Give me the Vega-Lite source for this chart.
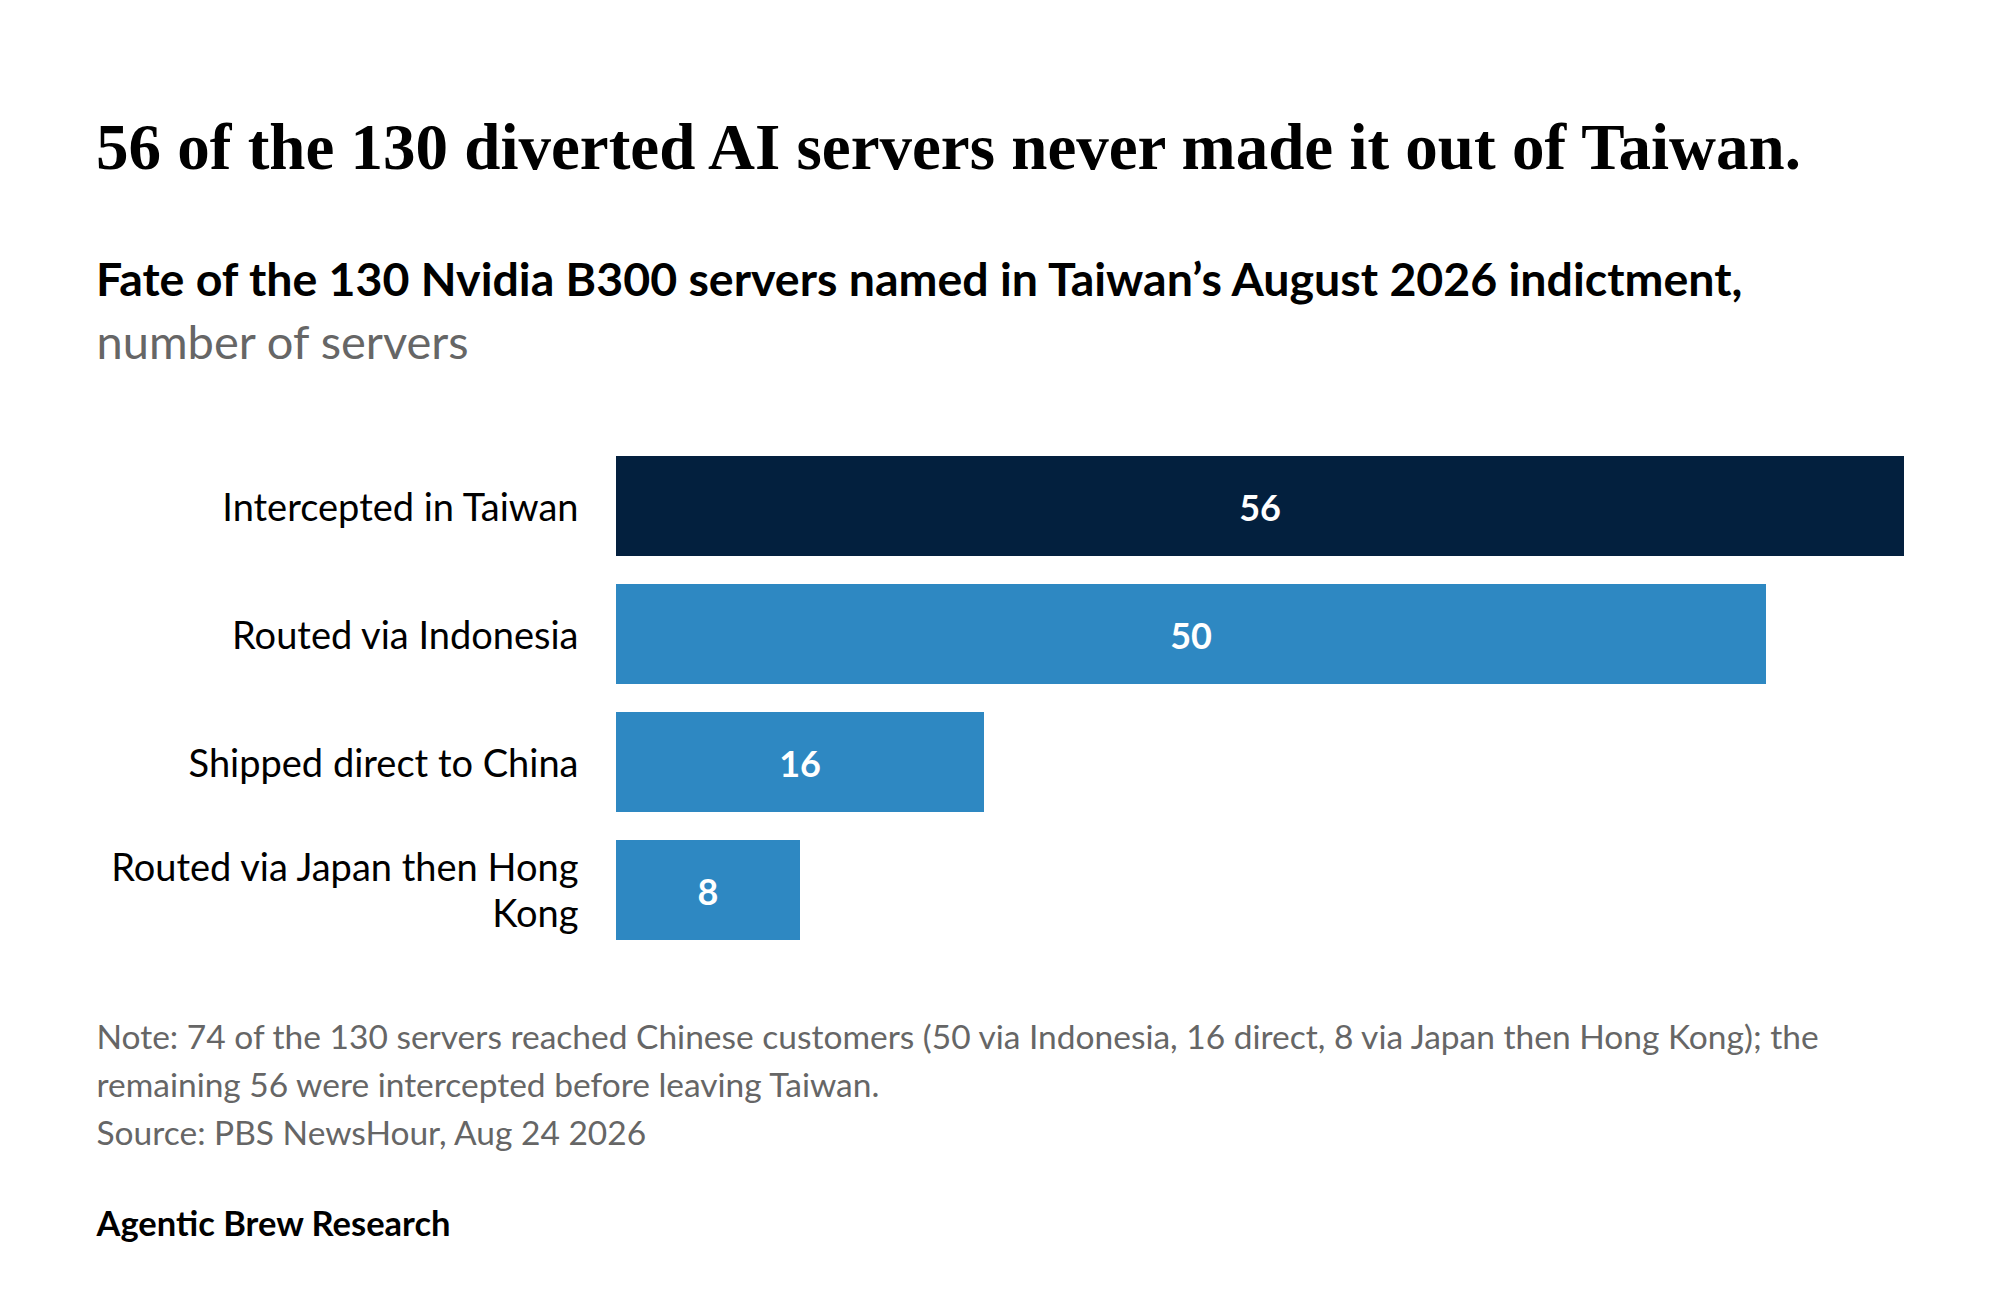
{
  "$schema": "https://vega.github.io/schema/vega-lite/v6.json",
  "autosize": {"type": "none"},
  "padding": {"left": 616, "top": 442, "right": 96, "bottom": 362},
  "width": 1288,
  "height": 512,
  "background": "white",
  "title": {
    "text": "56 of the 130 diverted AI servers never made it out of Taiwan.",
    "subtitle": "Fate of the 130 Nvidia B300 servers named in Taiwan’s August 2026 indictment,",
    "anchor": "start",
    "frame": "group",
    "dx": -520,
    "offset": 14,
    "font": "Liberation Serif",
    "fontSize": 65,
    "fontWeight": "bold",
    "color": "#000000",
    "subtitleFont": "Lato",
    "subtitleFontSize": 46.5,
    "subtitleFontWeight": "bold",
    "subtitleColor": "#000000",
    "subtitlePadding": 76
  },
  "data": {
    "values": [
      {"fate": "Intercepted in Taiwan", "servers": 56},
      {"fate": "Routed via Indonesia", "servers": 50},
      {"fate": "Shipped direct to China", "servers": 16},
      {"fate": "Routed via Japan then Hong Kong", "servers": 8}
    ]
  },
  "encoding": {
    "y": {
      "field": "fate",
      "type": "nominal",
      "sort": null,
      "scale": {"paddingInner": 0.22, "paddingOuter": 0.11},
      "axis": {
        "domain": false,
        "ticks": false,
        "grid": false,
        "labelPadding": 38,
        "labelFont": "Lato",
        "labelFontSize": 38,
        "labelColor": "#000000",
        "labelLimit": 700,
        "labelLineHeight": 46,
        "labelOffset": {"condition": {"test": "datum.value == 'Routed via Japan then Hong Kong'", "value": -20}, "value": 4},
        "labelExpr": "datum.value == 'Routed via Japan then Hong Kong' ? ['Routed via Japan then Hong', 'Kong'] : datum.value",
        "title": "number of servers",
        "titleAngle": 0,
        "titleAlign": "left",
        "titleBaseline": "alphabetic",
        "titleX": -520,
        "titleY": -84,
        "titleFont": "Lato",
        "titleFontSize": 47,
        "titleFontWeight": "normal",
        "titleColor": "#666666",
        "titleLimit": 2000
      }
    }
  },
  "layer": [
    {
      "mark": {"type": "bar"},
      "encoding": {
        "x": {
          "field": "servers",
          "type": "quantitative",
          "scale": {"domain": [0, 56], "nice": false},
          "axis": {
            "orient": "bottom",
            "labels": false,
            "ticks": false,
            "domain": false,
            "grid": false,
            "title": [
              "Note: 74 of the 130 servers reached Chinese customers (50 via Indonesia, 16 direct, 8 via Japan then Hong Kong); the",
              "remaining 56 were intercepted before leaving Taiwan.",
              "Source: PBS NewsHour, Aug 24 2026"
            ],
            "titleAlign": "left",
            "titleAnchor": "start",
            "titleBaseline": "alphabetic",
            "titleX": -520,
            "titleY": 94,
            "titleFont": "Lato",
            "titleFontSize": 33.5,
            "titleFontWeight": "normal",
            "titleColor": "#666666",
            "titleLineHeight": 48,
            "titleLimit": 2000
          }
        },
        "color": {
          "field": "fate",
          "type": "nominal",
          "scale": {
            "domain": ["Intercepted in Taiwan", "Routed via Indonesia", "Shipped direct to China", "Routed via Japan then Hong Kong"],
            "range": ["#03203e", "#2e88c2", "#2e88c2", "#2e88c2"]
          },
          "legend": null
        }
      }
    },
    {
      "mark": {"type": "text", "font": "Lato", "fontSize": 36, "fontWeight": "bold", "color": "#ffffff", "align": "center", "baseline": "middle", "dy": 4},
      "encoding": {
        "x": {
          "field": "servers",
          "type": "quantitative",
          "scale": {"domain": [0, 112], "nice": false},
          "axis": {
            "orient": "top",
            "labels": false,
            "ticks": false,
            "domain": false,
            "grid": false,
            "title": "Agentic Brew Research",
            "titleAlign": "left",
            "titleAnchor": "start",
            "titleBaseline": "alphabetic",
            "titleX": -520,
            "titleY": 793,
            "titleFont": "Lato",
            "titleFontSize": 34.5,
            "titleFontWeight": "bold",
            "titleColor": "#000000",
            "titleLimit": 2000
          }
        },
        "text": {"field": "servers", "type": "quantitative"}
      }
    }
  ],
  "resolve": {"scale": {"x": "independent"}, "axis": {"x": "independent"}},
  "config": {
    "view": {"stroke": null}
  }
}
